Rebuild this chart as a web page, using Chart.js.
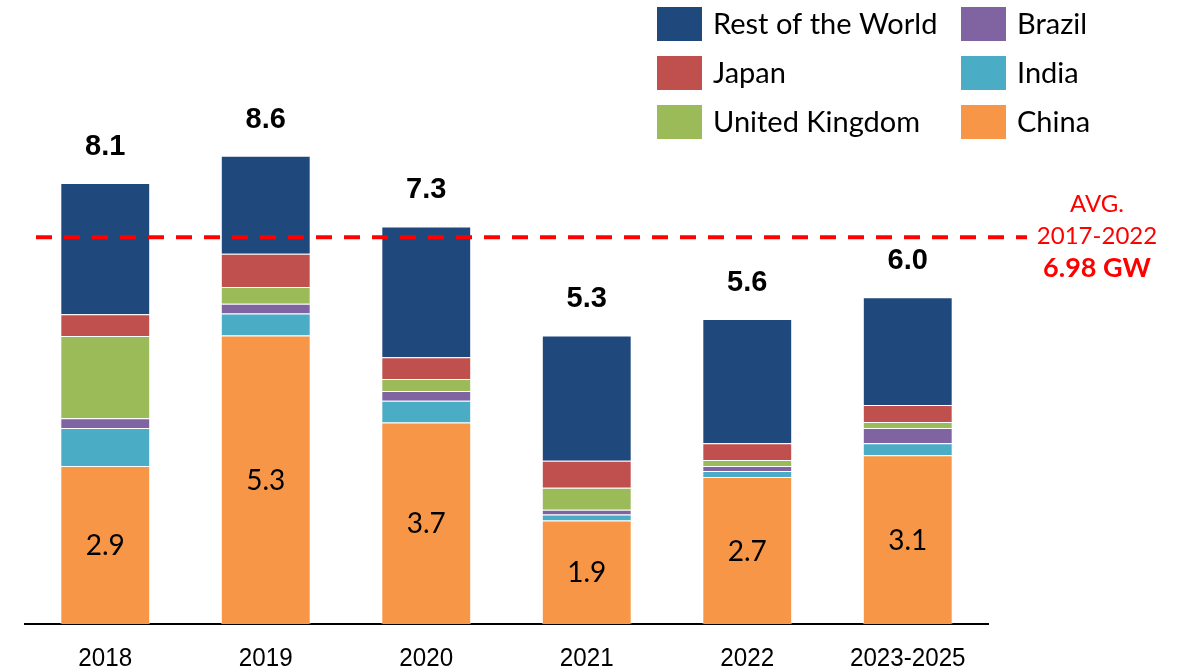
<!DOCTYPE html>
<html lang="en">
<head>
<meta charset="UTF-8">
<title>Installations by country</title>
<script src="https://cdn.jsdelivr.net/npm/chart.js"></script>
<style>
  html, body { margin: 0; padding: 0; background: #fff; }
  #wrap { width: 1179px; height: 672px; position: relative; }
</style>
</head>
<body>
<div id="wrap"><canvas id="chart"></canvas></div>
<script>
// categories and series (GW), bottom to top
const years = ["2018", "2019", "2020", "2021", "2022", "2023-2025"];
const china  = [2.9, 5.3, 3.7, 1.9, 2.7, 3.1];
const india  = [0.70, 0.40, 0.40, 0.11, 0.11, 0.22];
const brazil = [0.18, 0.18, 0.18, 0.09, 0.09, 0.28];
const uk     = [1.51, 0.31, 0.22, 0.40, 0.11, 0.11];
const japan  = [0.40, 0.61, 0.40, 0.50, 0.31, 0.31];
const rest   = [2.41, 1.80, 2.40, 2.30, 2.28, 1.98];
const totals = ["8.1", "8.6", "7.3", "5.3", "5.6", "6.0"];
const avgLevel = 7.1;
const avgText = ["AVG.", "2017-2022", "6.98 GW"];

const legendCols = [
    [["Rest of the World", "#1F497D"], ["Japan", "#C0504D"], ["United Kingdom", "#9BBB59"]],
    [["Brazil", "#8064A2"], ["India", "#4BACC6"], ["China", "#F79646"]]
];

const labelFont = "Lato, 'Liberation Sans', sans-serif";
const arialFont = "'Liberation Sans', Arial, sans-serif";

const extras = {
    id: 'extras',
    afterDatasetsDraw(chart) {
        const c = chart.ctx;
        const y = chart.scales.y;

        c.save();
        c.fillStyle = '#000';
        c.textAlign = 'center';
        c.textBaseline = 'middle';

        // china values inside bars
        const meta0 = chart.getDatasetMeta(0);
        c.font = "28px " + labelFont;
        meta0.data.forEach((bar, i) => {
            c.fillText(china[i].toFixed(1), bar.x, (bar.y + bar.base) / 2 + 1);
        });

        // totals above stacks
        const top = chart.getDatasetMeta(chart.data.datasets.length - 1);
        c.font = "bold 29px " + arialFont;
        top.data.forEach((bar, i) => {
            c.fillText(totals[i], bar.x, bar.y - 36);
        });

        // category labels, slightly condensed
        c.font = "26px " + arialFont;
        meta0.data.forEach((bar, i) => {
            c.save();
            c.translate(bar.x, 659);
            c.scale(0.93, 1);
            c.fillText(years[i], 0, 0);
            c.restore();
        });

        // average dashed line
        const ly = y.getPixelForValue(avgLevel);
        c.strokeStyle = '#FF0000';
        c.lineWidth = 4;
        c.setLineDash([16, 12]);
        c.beginPath();
        c.moveTo(36, ly);
        c.lineTo(1027, ly);
        c.stroke();
        c.setLineDash([]);

        c.fillStyle = '#FF0000';
        c.font = "24px " + labelFont;
        c.fillText(avgText[0], 1097, ly - 33);
        c.fillText(avgText[1], 1097, ly - 1);
        c.font = "bold 27px " + labelFont;
        c.fillText(avgText[2], 1097, ly + 31);

        // legend
        c.textAlign = 'left';
        c.font = "29px " + labelFont;
        const colX = [657, 961];
        legendCols.forEach((col, ci) => {
            col.forEach((item, ri) => {
                const cy = 24 + ri * 49;
                c.fillStyle = item[1];
                c.fillRect(colX[ci], cy - 17, 45, 34);
                c.fillStyle = '#000';
                c.fillText(item[0], colX[ci] + 56, cy + 1);
            });
        });
        c.restore();
    }
};

const series = [
    ["China", china, "#F79646"],
    ["India", india, "#4BACC6"],
    ["Brazil", brazil, "#8064A2"],
    ["United Kingdom", uk, "#9BBB59"],
    ["Japan", japan, "#C0504D"],
    ["Rest of the World", rest, "#1F497D"]
];

new Chart(document.getElementById('chart'), {
    type: 'bar',
    data: {
        labels: years,
        datasets: series.map(s => ({
            label: s[0],
            data: s[1],
            backgroundColor: s[2],
            borderColor: 'rgba(255,255,255,0.45)',
            borderWidth: 1,
            barPercentage: 0.56,
            categoryPercentage: 1.0
        }))
    },
    options: {
        responsive: true,
        maintainAspectRatio: false,
        animation: false,
        layout: { padding: { top: 25, left: 25, right: 191, bottom: 48 } },
        plugins: {
            legend: { display: false },
            tooltip: { enabled: false }
        },
        scales: {
            x: {
                stacked: true,
                grid: { display: false, drawTicks: false },
                border: { display: true, color: '#000', width: 2 },
                ticks: { display: false }
            },
            y: {
                stacked: true,
                display: false,
                min: 0,
                max: 11
            }
        }
    },
    plugins: [extras]
});
</script>
</body>
</html>
